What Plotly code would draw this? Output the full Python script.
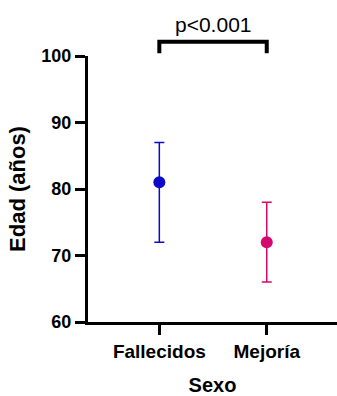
import plotly.graph_objects as go

categories = ["Fallecidos", "Mejoría"]
means = [81, 72]
upper = [87, 78]
lower = [72, 66]
colors = ["#0a0ac8", "#d4086e"]
y_ticks = [60, 70, 80, 90, 100]
p_text = "p<0.001"
bracket_top = 102.15
bracket_leg = 100.4

y_min, y_max = 60, 100
FONT = "Arial, Liberation Sans, sans-serif"

fig = go.Figure()
for i, c in enumerate(categories):
    fig.add_trace(go.Scatter(
        x=[i], y=[means[i]], mode="markers",
        marker=dict(color=colors[i], size=12),
        error_y=dict(type="data", symmetric=False,
                     array=[upper[i] - means[i]], arrayminus=[means[i] - lower[i]],
                     color=colors[i], thickness=1.5, width=5),
        showlegend=False, cliponaxis=False,
    ))

def py(v):
    return (v - y_min) / (y_max - y_min)

fig.add_shape(type="path", xref="x", yref="paper",
              path=f"M 0,{py(bracket_leg)} L 0,{py(bracket_top)} L 1,{py(bracket_top)} L 1,{py(bracket_leg)}",
              line=dict(color="black", width=4))
fig.add_annotation(x=0.5, y=py(bracket_top), xref="x", yref="paper", text=p_text,
                   showarrow=False, yanchor="bottom", yshift=4,
                   font=dict(family=FONT, size=21, color="black"))

fig.update_layout(
    width=337, height=396,
    margin=dict(l=88, r=0, t=56, b=74, autoexpand=False),
    plot_bgcolor="white", paper_bgcolor="white",
    font=dict(family=FONT, color="black"),
    xaxis=dict(range=[-0.664, 1.654], tickvals=[0, 1], ticktext=categories,
               showline=True, linecolor="black", linewidth=3,
               ticks="outside", ticklen=10, tickwidth=2.5, tickcolor="black",
               showgrid=False, zeroline=False, automargin=False,
               tickfont=dict(family=FONT, size=19, weight="bold"),
               title=dict(text="<b>Sexo</b>", font=dict(family=FONT, size=20), standoff=24)),
    yaxis=dict(range=[y_min, y_max], tickvals=y_ticks,
               showline=True, linecolor="black", linewidth=3,
               ticks="outside", ticklen=10, tickwidth=2.5, tickcolor="black",
               showgrid=False, zeroline=False, automargin=False,
               tickfont=dict(family=FONT, size=18, weight="bold"),
               title=dict(text="<b>Edad (años)</b>", font=dict(family=FONT, size=22), standoff=10)),
)

fig.write_html("out.html")
